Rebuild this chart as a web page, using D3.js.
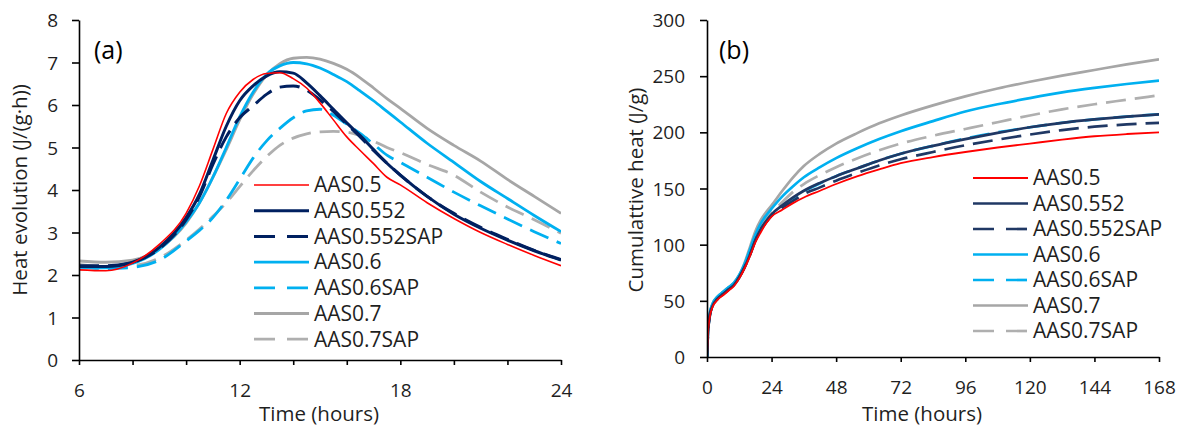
<!DOCTYPE html>
<html><head><meta charset="utf-8">
<script src="https://cdn.jsdelivr.net/npm/d3@7"></script>
<style>
html,body{margin:0;padding:0;background:#fff;}
svg{display:block;font-family:"Open Sans",sans-serif;}
</style></head>
<body><svg id="c" width="1184" height="428"></svg>
<script>
// ---------- data ----------
const seriesNames = ["AAS0.5","AAS0.552","AAS0.552SAP","AAS0.6","AAS0.6SAP","AAS0.7","AAS0.7SAP"];

// Panel (a): heat evolution, J/(g·h)
const timeA = [6,7,8,9,10,10.5,11,11.5,12,12.5,13,13.5,14,14.5,15,15.5,16,16.5,17,17.5,18,19,20,21,22,23,24];
const heatA_AAS05      = [2.12,2.10,2.28,2.72,3.45,4.10,4.95,5.80,6.30,6.60,6.74,6.76,6.62,6.40,6.05,5.65,5.25,4.93,4.62,4.30,4.12,3.70,3.33,3.00,2.72,2.46,2.22];
const heatA_AAS0552    = [2.20,2.20,2.30,2.65,3.35,3.90,4.70,5.50,6.10,6.45,6.68,6.78,6.75,6.52,6.22,5.90,5.58,5.28,4.95,4.63,4.35,3.85,3.43,3.10,2.82,2.57,2.35];
const heatA_AAS0552SAP = [2.22,2.22,2.30,2.62,3.30,3.85,4.60,5.25,5.70,5.98,6.25,6.42,6.45,6.35,6.12,5.85,5.55,5.25,4.93,4.63,4.35,3.85,3.45,3.12,2.84,2.58,2.36];
const heatA_AAS06      = [2.18,2.17,2.27,2.60,3.25,3.70,4.30,5.00,5.72,6.30,6.72,6.92,7.00,6.97,6.87,6.72,6.55,6.33,6.10,5.85,5.60,5.10,4.65,4.20,3.80,3.40,3.02];
const heatA_AAS06SAP   = [2.20,2.15,2.18,2.35,2.80,3.05,3.35,3.76,4.25,4.75,5.15,5.45,5.70,5.86,5.90,5.76,5.55,5.33,5.08,4.82,4.65,4.30,3.95,3.63,3.32,3.02,2.74];
const heatA_AAS07      = [2.33,2.30,2.35,2.62,3.22,3.70,4.30,4.95,5.65,6.25,6.70,6.97,7.10,7.12,7.08,6.98,6.84,6.64,6.40,6.15,5.92,5.45,5.05,4.68,4.25,3.85,3.45];
const heatA_AAS07SAP   = [2.25,2.20,2.22,2.40,2.82,3.08,3.38,3.70,4.08,4.45,4.78,5.05,5.22,5.32,5.37,5.38,5.36,5.28,5.15,5.00,4.88,4.60,4.35,3.95,3.60,3.30,2.98];

// Panel (b): cumulative heat, J/g
const timeB = [0,0.3,1,2,4,6,8,10,12,14,16,18,20,22,24,28,32,36,42,48,56,64,72,84,96,108,120,132,144,156,168];
const cumB_AAS05      = [0,18,35,44,51,55,59,63,70,79,90,102,111,119,125,131,137,142,148,154,161,167,172.5,178,182.5,186.5,190,193.5,196.5,198.5,200];
const cumB_AAS0552    = [0,18,36,45,52,56,60,64,71,80,91,104,114,121,127,135,142,148,155,161,168,175,181,188,194,199.5,204.5,208.5,211.5,214,216];
const cumB_AAS0552SAP = [0,18,36,45,52,56,60,64,71,80,91,104,113,120,126,133,139,145,151,157,164,170.5,176,182.5,188.5,193.5,198,202,205,207,208.5];
const cumB_AAS06      = [0,20,38,47,54,58,62,66,73,83,96,109,119,126,132,143,152,160,169,177,186,194,201,210,218.5,225,230.5,235.5,239.5,243,246];
const cumB_AAS06SAP   = [0,19,37,46,53,57,61,65,72,81,92,104,113,120,126,134,141,147.5,154.5,161,168,175,181,188,194.5,200,204.5,208.5,211.5,214,216];
const cumB_AAS07      = [0,20,38,47,54,58,62,66,73,84,98,112,122,129,135,148,160,170,181,190,199.5,208,215,224,232,239,245,250.5,255.5,260.5,265];
const cumB_AAS07SAP   = [0,19,37,46,53,57,61,65,72,82,94,106,116,123,128,138,147,154,162,169,177,184,190,197,203,209,215,220.5,225,229,233];

const ticksA_x = [6,8,10,12,14,16,18,20,22,24];
const ticksA_y = [0,1,2,3,4,5,6,7,8];
const ticksB_x = [0,24,48,72,96,120,144,168];
const ticksB_y = [0,50,100,150,200,250,300];

// ---------- styles ----------
const colorsA = ["#FF0000","#002060","#002060","#00B0F0","#00B0F0","#A6A6A6","#AFAFAF"];
const colorsB = ["#FF0000","#203864","#203864","#00B0F0","#00B0F0","#A6A6A6","#AFAFAF"];
const dashed  = [false,false,true,false,true,false,true];
const widthsA = [1.6,3,3,2.8,2.8,2.8,2.8];
const widthsB = [1.8,2.7,2.7,2.7,2.7,2.7,2.7];
const dashArr = "20,9";
const legDash = "21,12";

const valsA = [heatA_AAS05,heatA_AAS0552,heatA_AAS0552SAP,heatA_AAS06,heatA_AAS06SAP,heatA_AAS07,heatA_AAS07SAP];
const valsB = [cumB_AAS05,cumB_AAS0552,cumB_AAS0552SAP,cumB_AAS06,cumB_AAS06SAP,cumB_AAS07,cumB_AAS07SAP];

const svg = d3.select("#c");
svg.append("rect").attr("width",1184).attr("height",428).attr("fill","#fff");
const FS_TICK = 19, FS_TITLE = 20.5, FS_LEG = 21, TXT = "#1f1f1f";

function panel(opt){
  const x = d3.scaleLinear().domain(opt.xd).range(opt.xr);
  const y = d3.scaleLinear().domain(opt.yd).range(opt.yr);
  const g = svg.append("g");
  const cid = "clip"+opt.id;
  svg.append("clipPath").attr("id",cid).append("rect")
    .attr("x",opt.xr[0]).attr("y",opt.yr[1]).attr("width",opt.xr[1]-opt.xr[0]).attr("height",opt.yr[0]-opt.yr[1]);
  const line = d3.line().x(d=>x(d[0])).y(d=>y(d[1])).curve(d3.curveMonotoneX);
  const lg = g.append("g").attr("clip-path",`url(#${cid})`);
  const order = [6,5,4,3,2,1,0];
  order.forEach(i=>{
    lg.append("path").datum(opt.t.map((t,k)=>[t,opt.vals[i][k]]))
      .attr("d",line).attr("fill","none")
      .attr("stroke",opt.colors[i]).attr("stroke-width",opt.widths[i])
      .attr("stroke-dasharray",dashed[i]?dashArr:null);
  });
  const xa = g.append("g").attr("transform",`translate(0,${opt.yr[0]})`)
    .call(d3.axisBottom(x).tickValues(opt.xt).tickSize(5).tickSizeOuter(0)
      .tickFormat(d=>opt.xlab(d)?d:""));
  const ya = g.append("g").attr("transform",`translate(${opt.xr[0]},0)`)
    .call(d3.axisLeft(y).tickValues(opt.yt).tickSize(7).tickSizeOuter(0));
  [xa,ya].forEach(a=>{
    a.select(".domain").attr("stroke","#000").attr("stroke-width",1.6);
    a.selectAll(".tick line").attr("stroke","#000").attr("stroke-width",1.6);
    a.selectAll("text").attr("font-size",FS_TICK).attr("fill",TXT).attr("font-family","Open Sans");
  });
  xa.selectAll("text").attr("y",37).attr("dy",0);
  ya.selectAll("text").attr("x",opt.ylabx).attr("dy","0.35em");
  g.append("text").attr("x",opt.xtitleX).attr("y",421).attr("text-anchor","middle")
    .attr("font-size",FS_TITLE).attr("fill",TXT).text("Time (hours)");
  g.append("text").attr("transform",`translate(${opt.ytitleX},190) rotate(-90)`)
    .attr("text-anchor","middle").attr("font-size",FS_TITLE).attr("fill",TXT).text(opt.ytitle);
  g.append("text").attr("x",opt.tagX).attr("y",59).attr("font-size",25).attr("fill","#000").text(opt.tag);
  const lgd = g.append("g");
  seriesNames.forEach((n,i)=>{
    const cy = opt.legY0 + i*opt.legDy;
    lgd.append("line").attr("x1",opt.legX).attr("x2",opt.legX+55).attr("y1",cy).attr("y2",cy)
      .attr("stroke",opt.colors[i]).attr("stroke-width",opt.widths[i])
      .attr("stroke-dasharray",dashed[i]?legDash:null);
    lgd.append("text").attr("x",opt.legX+60).attr("y",cy).attr("dy","0.35em")
      .attr("font-size",FS_LEG).attr("fill",TXT).text(n);
  });
}

panel({id:"a",xd:[6,24],xr:[79,561],yd:[0,8],yr:[360,20],t:timeA,vals:valsA,colors:colorsA,widths:widthsA,
  xt:ticksA_x,yt:ticksA_y,xlab:d=>d%6===0,ylabx:-21,xtitleX:319,ytitleX:27,ytitle:"Heat evolution (J/(g·h))",
  tag:"(a)",tagX:94,legX:254,legY0:185,legDy:25.7});
panel({id:"b",xd:[0,168],xr:[707,1159],yd:[0,300],yr:[357,20],t:timeB,vals:valsB,colors:colorsB,widths:widthsB,
  xt:ticksB_x,yt:ticksB_y,xlab:d=>true,ylabx:-22,xtitleX:922,ytitleX:643,ytitle:"Cumulattive heat (J/g)",
  tag:"(b)",tagX:719,legX:973,legY0:178,legDy:25.5});
</script></body></html>
